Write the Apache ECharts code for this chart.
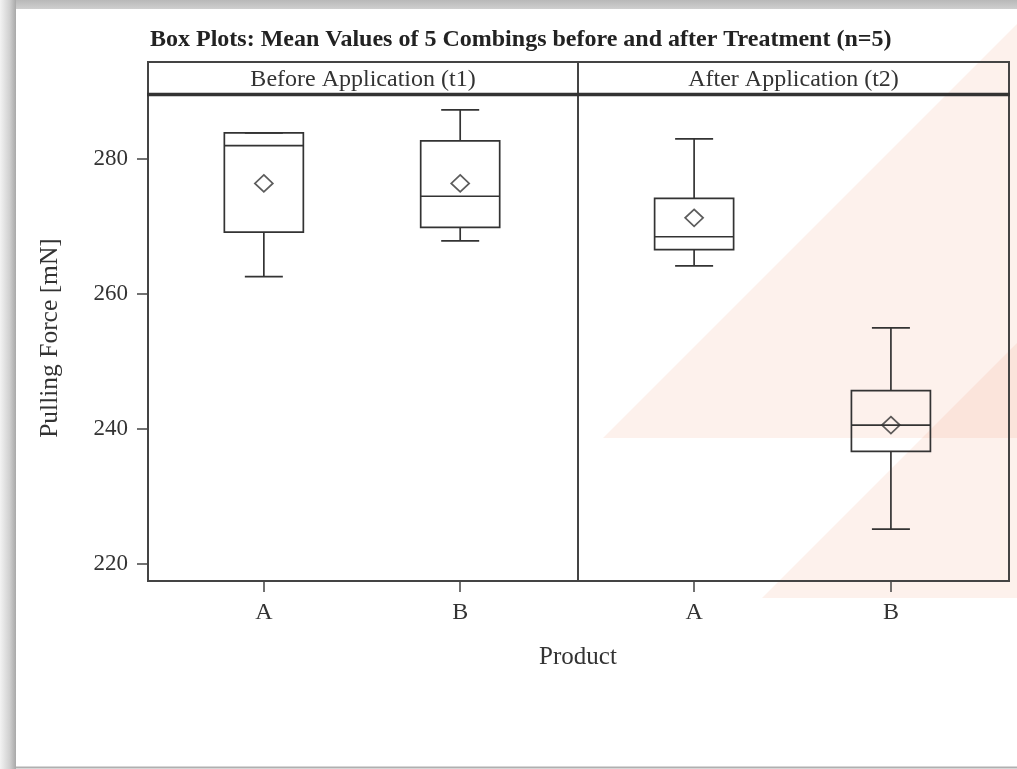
<!DOCTYPE html>
<html><head><meta charset="utf-8">
<script src="https://cdn.jsdelivr.net/npm/echarts@6/dist/echarts.min.js"></script>
<style>html,body{margin:0;padding:0;background:#fff}#c{width:1017px;height:769px}</style>
</head><body><div id="c"></div>
<script>
// ---- data ----
const products = ['A', 'B'];
const productPos = [1, 2];
const panels = ['Before Application (t1)', 'After Application (t2)'];
const chartTitle = 'Box Plots: Mean Values of 5 Combings before and after Treatment (n=5)';
const xTitle = 'Product';
const yTitle = 'Pulling Force [mN]';
// [min, Q1, median, Q3, max]
const beforeBoxes = [[262.6, 269.2, 282.0, 283.9, 283.9], [267.9, 269.9, 274.5, 282.7, 287.3]];
const afterBoxes = [[264.2, 266.6, 268.5, 274.2, 283.0], [225.2, 236.7, 240.6, 245.7, 255.0]];
const beforeMeans = [276.4, 276.4];
const afterMeans = [271.3, 240.6];
const yTicks = [220, 240, 260, 280];

// ---- styles ----
const FONT = '"Liberation Serif", "Times New Roman", serif';
const INK = '#333';
const FRAME = '#444';

function renderBox(params, api) {
  const x = api.value(0);
  const lo = api.coord([x, api.value(1)]);
  const q1 = api.coord([x, api.value(2)]);
  const md = api.coord([x, api.value(3)]);
  const q3 = api.coord([x, api.value(4)]);
  const hi = api.coord([x, api.value(5)]);
  const bw = 79, cw = 38, cx = lo[0];
  const st = { stroke: INK, lineWidth: 1.7, fill: 'transparent' };
  return { type: 'group', children: [
    { type: 'line', shape: { x1: cx, y1: hi[1], x2: cx, y2: q3[1] }, style: st },
    { type: 'line', shape: { x1: cx, y1: q1[1], x2: cx, y2: lo[1] }, style: st },
    { type: 'line', shape: { x1: cx - cw / 2, y1: hi[1], x2: cx + cw / 2, y2: hi[1] }, style: st },
    { type: 'line', shape: { x1: cx - cw / 2, y1: lo[1], x2: cx + cw / 2, y2: lo[1] }, style: st },
    { type: 'rect', shape: { x: cx - bw / 2, y: q3[1], width: bw, height: q1[1] - q3[1] }, style: st },
    { type: 'line', shape: { x1: cx - bw / 2, y1: md[1], x2: cx + bw / 2, y2: md[1] }, style: st }
  ]};
}

const grids = [
  { left: 148, top: 95, width: 430, height: 486 },
  { left: 578, top: 95, width: 431, height: 486 }
].map(g => Object.assign(g, { show: true, borderColor: FRAME, borderWidth: 2, backgroundColor: 'transparent' }));

const xAxes = [0, 1].map(i => ({
  type: 'value', gridIndex: i, min: 0.41, max: 2.6,
  axisLine: { show: true, lineStyle: { color: FRAME, width: 2 } },
  axisTick: { show: true, length: 11, customValues: productPos, lineStyle: { color: FRAME, width: 1.5 } },
  axisLabel: { customValues: productPos, margin: 20, color: INK, fontFamily: FONT, fontSize: 24,
    formatter: v => products[productPos.indexOf(v)] || '' },
  splitLine: { show: false }
}));

const yAxes = [0, 1].map(i => ({
  type: 'value', gridIndex: i, min: 217.5, max: 289.5, show: i === 0,
  axisLine: { show: true, lineStyle: { color: FRAME, width: 2 } },
  axisTick: { show: true, length: 11, customValues: yTicks, lineStyle: { color: FRAME, width: 1.5 } },
  axisLabel: { customValues: yTicks, margin: 20, color: INK, fontFamily: FONT, fontSize: 23 },
  splitLine: { show: false }
}));

const boxSets = [beforeBoxes, afterBoxes];
const meanSets = [beforeMeans, afterMeans];
const series = [];
[0, 1].forEach(i => {
  series.push({
    type: 'custom', xAxisIndex: i, yAxisIndex: i, renderItem: renderBox, silent: true,
    encode: { x: 0, y: [1, 2, 3, 4, 5] },
    data: productPos.map((p, k) => [p].concat(boxSets[i][k]))
  });
  series.push({
    type: 'scatter', xAxisIndex: i, yAxisIndex: i, symbol: 'diamond', symbolSize: [18, 17], silent: true,
    itemStyle: { color: 'transparent', borderColor: INK, borderWidth: 1.7 },
    data: productPos.map((p, k) => [p, meanSets[i][k]])
  });
});

const tri = 'rgba(240,150,110,0.13)';
const graphic = [
  { type: 'polygon', z: -10, shape: { points: [[603, 438], [1017, 438], [1017, 24]] }, style: { fill: tri } },
  { type: 'polygon', z: -10, shape: { points: [[762, 598], [1017, 598], [1017, 343]] }, style: { fill: tri } },
  { type: 'rect', z: 50, shape: { x: 0, y: 0, width: 1017, height: 9 },
    style: { fill: new echarts.graphic.LinearGradient(0, 0, 0, 1, [{ offset: 0, color: '#b8b8b8' }, { offset: 1, color: '#cfcfcf' }]) } },
  { type: 'rect', z: 50, shape: { x: 0, y: 0, width: 16, height: 769 },
    style: { fill: new echarts.graphic.LinearGradient(0, 0, 1, 0, [{ offset: 0, color: '#f3f3f3' }, { offset: 0.6, color: '#d0d0d0' }, { offset: 1, color: '#a8a8a8' }]) } },
  { type: 'rect', z: 50, shape: { x: 16, y: 766.5, width: 1001, height: 2 }, style: { fill: '#b0b0b0' } },
  { type: 'text', z: 20, x: 150, y: 39.5, style: { text: chartTitle, font: 'bold 24px ' + FONT, fill: '#222', textVerticalAlign: 'middle' } },
  { type: 'rect', z: 20, shape: { x: 148, y: 62, width: 430, height: 33 }, style: { fill: 'transparent', stroke: FRAME, lineWidth: 2 } },
  { type: 'rect', z: 20, shape: { x: 578, y: 62, width: 431, height: 33 }, style: { fill: 'transparent', stroke: FRAME, lineWidth: 2 } },
  { type: 'line', z: 21, shape: { x1: 147, y1: 94.5, x2: 1010, y2: 94.5 }, style: { stroke: '#333', lineWidth: 3.5 } },
  { type: 'text', z: 20, x: 363, y: 80, style: { text: panels[0], font: '24px ' + FONT, fill: INK, textAlign: 'center', textVerticalAlign: 'middle' } },
  { type: 'text', z: 20, x: 793.5, y: 80, style: { text: panels[1], font: '24px ' + FONT, fill: INK, textAlign: 'center', textVerticalAlign: 'middle' } },
  { type: 'text', z: 20, x: 578, y: 657, style: { text: xTitle, font: '25px ' + FONT, fill: INK, textAlign: 'center', textVerticalAlign: 'middle' } },
  { type: 'text', z: 20, x: 50, y: 338, rotation: Math.PI / 2, style: { text: yTitle, font: '25.5px ' + FONT, fill: INK, textAlign: 'center', textVerticalAlign: 'middle' } }
];

const chart = echarts.init(document.getElementById('c'), null, { renderer: 'canvas' });
chart.setOption({
  animation: false,
  backgroundColor: '#fff',
  grid: grids, xAxis: xAxes, yAxis: yAxes, series: series, graphic: graphic
});
</script></body></html>
